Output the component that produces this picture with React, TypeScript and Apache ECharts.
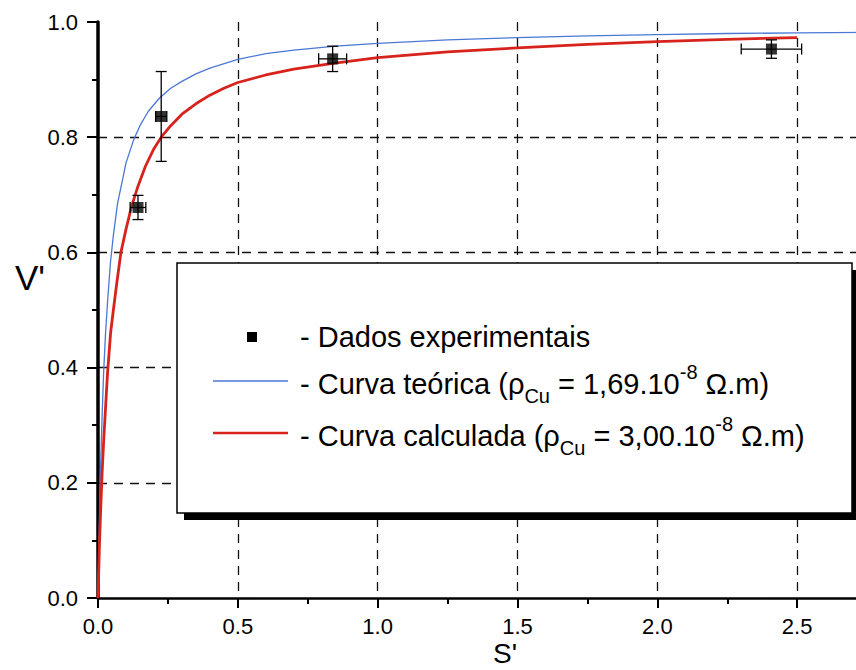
import React, { useEffect, useRef } from "react";
import * as echarts from "echarts";

// Experimental data (S', V') with error bars
const expS = [0.143, 0.226, 0.839, 2.408];
const expV = [0.678, 0.836, 0.936, 0.953];
const errS = [0.028, 0.02, 0.05, 0.108];
const errV = [0.021, 0.078, 0.022, 0.016];

// Theoretical curve (blue)
const blueS = [0, 0.003, 0.006, 0.01, 0.015, 0.02, 0.027, 0.035, 0.045, 0.055, 0.07, 0.085, 0.1, 0.127, 0.15, 0.18, 0.22, 0.26, 0.3, 0.35, 0.4, 0.5, 0.6, 0.7, 0.85, 1.0, 1.25, 1.5, 1.75, 2.0, 2.25, 2.5, 2.75, 3.0];
const blueV = [0, 0.09, 0.16, 0.24, 0.32, 0.39, 0.46, 0.52, 0.585, 0.63, 0.685, 0.72, 0.755, 0.795, 0.82, 0.845, 0.868, 0.885, 0.897, 0.91, 0.92, 0.935, 0.945, 0.951, 0.958, 0.963, 0.969, 0.973, 0.976, 0.978, 0.98, 0.981, 0.982, 0.983];

// Calculated curve (red)
const redS = [0, 0.005, 0.01, 0.015, 0.02, 0.027, 0.034, 0.045, 0.055, 0.068, 0.082, 0.1, 0.12, 0.143, 0.17, 0.2, 0.226, 0.26, 0.3, 0.35, 0.4, 0.45, 0.5, 0.6, 0.7, 0.84, 1.0, 1.25, 1.5, 1.75, 2.0, 2.25, 2.5];
const redV = [0, 0.09, 0.16, 0.22, 0.27, 0.33, 0.39, 0.46, 0.5, 0.55, 0.6, 0.64, 0.68, 0.715, 0.75, 0.78, 0.8, 0.82, 0.84, 0.858, 0.873, 0.885, 0.895, 0.908, 0.918, 0.928, 0.938, 0.948, 0.955, 0.961, 0.966, 0.97, 0.973];

const yTicks = [0, 0.2, 0.4, 0.6, 0.8, 1.0];
const xTicks = [0, 0.5, 1.0, 1.5, 2.0, 2.5];

const legendRows = [
  "- Dados experimentais",
  "- Curva teórica (ρ{sub|Cu} = 1,69.10{sup|-8} Ω.m)",
  "- Curva calculada (ρ{sub|Cu} = 3,00.10{sup|-8} Ω.m)",
];

const FONT = "'Liberation Sans', Arial, Helvetica, sans-serif";

export default function App() {
  const ref = useRef<HTMLDivElement>(null);
  useEffect(() => {
    document.body.style.margin = "0";
    document.body.style.overflow = "hidden";
    document.documentElement.style.overflow = "hidden";
    const chart = echarts.init(ref.current!, null, { renderer: "svg" });
    const bluePts = blueS.map((s, i) => [s, blueV[i]]);
    const redPts = redS.map((s, i) => [s, redV[i]]);
    const expPts = expS.map((s, i) => [s, expV[i], errS[i], errV[i]]);

    const richStyles = {
      sub: { fontSize: 20, lineHeight: 25, verticalAlign: "bottom", fontFamily: FONT, fill: "#000" },
      sup: { fontSize: 20, lineHeight: 28, verticalAlign: "top", fontFamily: FONT, fill: "#000" },
    };

    const rowY = [337, 384, 436];

    chart.setOption({
      animation: false,
      backgroundColor: "#fff",
      grid: { left: 98, top: 22, bottom: 72, right: 2 },
      xAxis: {
        type: "value",
        min: 0,
        max: 3,
        interval: 0.5,
        axisLine: { show: true, onZero: false, lineStyle: { color: "#000", width: 2.5 } },
        axisTick: { show: true, inside: false, length: 10, lineStyle: { color: "#000", width: 2 } },
        minorTick: { show: true, splitNumber: 2, length: 6, lineStyle: { color: "#000", width: 2 } },
        axisLabel: {
          color: "#000",
          fontSize: 22,
          fontFamily: FONT,
          margin: 17,
          formatter: (v: number) => (xTicks.some((t) => Math.abs(t - v) < 1e-9) ? v.toFixed(1) : ""),
        },
        splitLine: {
          show: true,
          showMinLine: false,
          lineStyle: { color: "#111", width: 1.3, type: [9, 7] },
        },
      },
      yAxis: {
        type: "value",
        min: 0,
        max: 1,
        interval: 0.2,
        axisLine: { show: true, onZero: false, lineStyle: { color: "#000", width: 3.5 } },
        axisTick: { show: true, inside: false, length: 11, lineStyle: { color: "#000", width: 2 } },
        minorTick: { show: true, splitNumber: 2, length: 6, lineStyle: { color: "#000", width: 2 } },
        axisLabel: {
          color: "#000",
          fontSize: 22,
          fontFamily: FONT,
          margin: 20,
          formatter: (v: number) => (yTicks.some((t) => Math.abs(t - v) < 1e-9) ? v.toFixed(1) : ""),
        },
        splitLine: {
          show: true,
          showMinLine: false,
          showMaxLine: false,
          lineStyle: { color: "#111", width: 1.3, type: [9, 7] },
        },
      },
      series: [
        {
          name: "teorica",
          type: "line",
          data: bluePts,
          smooth: false,
          showSymbol: false,
          lineStyle: { color: "#4a78d4", width: 1.3 },
          z: 3,
        },
        {
          name: "calculada",
          type: "line",
          data: redPts,
          smooth: false,
          showSymbol: false,
          lineStyle: { color: "#d8221c", width: 2.8, join: "round" },
          z: 4,
        },
        {
          name: "errbars",
          type: "custom",
          data: expPts,
          dimensions: ["s", "v", "es", "ev"],
          encode: { x: 0, y: 1 },
          z: 5,
          renderItem: (params: any, api: any) => {
            const x = api.value(0);
            const y = api.value(1);
            const ex = api.value(2);
            const ey = api.value(3);
            const top = api.coord([x, y + ey]);
            const bot = api.coord([x, y - ey]);
            const lft = api.coord([x - ex, y]);
            const rgt = api.coord([x + ex, y]);
            const cap = 5.5;
            const st = { stroke: "#000", lineWidth: 1.3 };
            return {
              type: "group",
              children: [
                { type: "line", shape: { x1: top[0], y1: top[1], x2: bot[0], y2: bot[1] }, style: st },
                { type: "line", shape: { x1: top[0] - cap, y1: top[1], x2: top[0] + cap, y2: top[1] }, style: st },
                { type: "line", shape: { x1: bot[0] - cap, y1: bot[1], x2: bot[0] + cap, y2: bot[1] }, style: st },
                { type: "line", shape: { x1: lft[0], y1: lft[1], x2: rgt[0], y2: rgt[1] }, style: st },
                { type: "line", shape: { x1: lft[0], y1: lft[1] - cap, x2: lft[0], y2: lft[1] + cap }, style: st },
                { type: "line", shape: { x1: rgt[0], y1: rgt[1] - cap, x2: rgt[0], y2: rgt[1] + cap }, style: st },
              ],
            };
          },
        },
        {
          name: "dados",
          type: "scatter",
          data: expPts.map((p) => [p[0], p[1]]),
          symbol: "rect",
          symbolSize: 11,
          itemStyle: { color: "#000" },
          z: 6,
        },
      ],
      graphic: [
        // shadow
        { type: "rect", z: 100, shape: { x: 184, y: 270, width: 675, height: 250 }, style: { fill: "#000" } },
        // box
        {
          type: "rect",
          z: 101,
          shape: { x: 177, y: 263, width: 675, height: 250 },
          style: { fill: "#fff", stroke: "#000", lineWidth: 1.5 },
        },
        // legend symbols
        { type: "rect", z: 102, shape: { x: 247, y: 332, width: 10, height: 10 }, style: { fill: "#000" } },
        {
          type: "line",
          z: 102,
          shape: { x1: 213, y1: 381, x2: 288, y2: 381 },
          style: { stroke: "#4a78d4", lineWidth: 1.3 },
        },
        {
          type: "line",
          z: 102,
          shape: { x1: 213, y1: 433, x2: 288, y2: 433 },
          style: { stroke: "#d8221c", lineWidth: 2.4 },
        },
        ...legendRows.map((t, i) => ({
          type: "text",
          z: 102,
          x: 300,
          y: rowY[i],
          style: {
            text: t,
            fontSize: 29,
            fontFamily: FONT,
            fill: "#000",
            lineHeight: 44,
            verticalAlign: "middle",
            align: "left",
            rich: richStyles,
          },
        })),
        // axis titles
        {
          type: "text",
          z: 102,
          x: 15,
          y: 277,
          style: { text: "V'", fontSize: 35, fontFamily: FONT, fill: "#000", verticalAlign: "middle", align: "left" },
        },
        {
          type: "text",
          z: 102,
          x: 493,
          y: 639,
          style: {
            text: "S'",
            fontSize: 28,
            lineHeight: 28,
            fontFamily: FONT,
            fill: "#000",
            verticalAlign: "top",
            align: "left",
          },
        },
      ],
    });
    return () => chart.dispose();
  }, []);
  return <div ref={ref} style={{ position: "absolute", left: 0, top: 0, width: 940, height: 670 }} />;
}
